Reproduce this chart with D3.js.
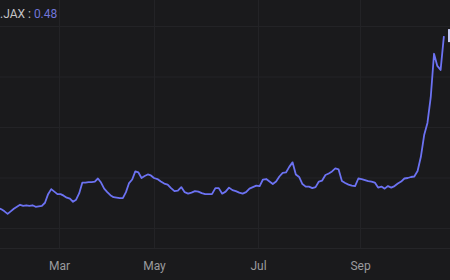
<!DOCTYPE html>
<html>
<head>
<meta charset="utf-8">
<script src="https://cdn.jsdelivr.net/npm/d3@7"></script>
<style>
  html, body { margin: 0; padding: 0; background: #1a1a1c; }
  svg { display: block; }
</style>
</head>
<body>
<div id="chart"></div>
<script>
// series: one value every second day, starting 22 Jan 2024
var startDay = new Date(2024, 0, 22);
var stepDays = 2;
var values = [
  0.140, 0.137, 0.133, 0.128, 0.133, 0.138, 0.142, 0.146, 0.144, 0.145,
  0.144, 0.145, 0.142, 0.143, 0.144, 0.150, 0.167, 0.177, 0.172, 0.167,
  0.167, 0.164, 0.160, 0.158, 0.152, 0.156, 0.169, 0.190, 0.190, 0.191,
  0.191, 0.192, 0.198, 0.190, 0.178, 0.171, 0.165, 0.161, 0.160, 0.159,
  0.159, 0.171, 0.189, 0.196, 0.212, 0.210, 0.199, 0.203, 0.206, 0.204,
  0.199, 0.197, 0.192, 0.188, 0.186, 0.179, 0.173, 0.174, 0.181, 0.171,
  0.168, 0.170, 0.173, 0.172, 0.169, 0.167, 0.167, 0.167, 0.179, 0.179,
  0.168, 0.172, 0.180, 0.175, 0.173, 0.170, 0.168, 0.171, 0.178, 0.181,
  0.184, 0.183, 0.196, 0.197, 0.192, 0.187, 0.192, 0.202, 0.209, 0.210,
  0.221, 0.230, 0.206, 0.201, 0.187, 0.182, 0.182, 0.179, 0.181, 0.192,
  0.194, 0.205, 0.208, 0.212, 0.218, 0.216, 0.193, 0.189, 0.186, 0.184,
  0.183, 0.198, 0.197, 0.195, 0.193, 0.192, 0.190, 0.180, 0.182, 0.178,
  0.183, 0.180, 0.183, 0.188, 0.192, 0.198, 0.199, 0.201, 0.202, 0.213,
  0.241, 0.284, 0.308, 0.359, 0.445, 0.421, 0.413, 0.480
];
var monthTicks = [new Date(2024, 2, 1), new Date(2024, 4, 1), new Date(2024, 6, 1), new Date(2024, 8, 1)];
var valueTicks = [0.1, 0.2, 0.3, 0.4, 0.5];
var seriesName = ".JAX";

var width = 450, height = 280;

var data = values.map(function(v, i) {
  return { date: d3.timeDay.offset(startDay, i * stepDays), value: v };
});

var svg = d3.select("#chart").append("svg")
  .attr("width", width)
  .attr("height", height)
  .style("background", "#1a1a1c");

// x is piecewise so month gaps follow the original layout
var x = d3.scaleTime()
  .domain(monthTicks)
  .range([59, 154, 258, 360]);

var y = d3.scaleLinear()
  .domain([0.1, 0.5])
  .range([228, 26]);

// grid
svg.append("g").selectAll("line.h")
  .data(valueTicks)
  .enter().append("line")
    .attr("x1", 0).attr("x2", width)
    .attr("y1", function(d) { return y(d) + 0.5; })
    .attr("y2", function(d) { return y(d) + 0.5; })
    .attr("stroke", "#232326");

svg.append("g").selectAll("line.v")
  .data(monthTicks)
  .enter().append("line")
    .attr("x1", function(d) { return Math.round(x(d)) + 0.5; })
    .attr("x2", function(d) { return Math.round(x(d)) + 0.5; })
    .attr("y1", 0).attr("y2", 249)
    .attr("stroke", "#232326");

svg.append("line")
  .attr("x1", 0).attr("x2", width)
  .attr("y1", 248.5).attr("y2", 248.5)
  .attr("stroke", "#252528");

// x axis labels
var xAxis = svg.append("g")
  .attr("transform", "translate(0,258)")
  .call(d3.axisBottom(x).tickValues(monthTicks).tickSize(0).tickFormat(d3.timeFormat("%b")));
xAxis.select(".domain").remove();
xAxis.selectAll("text")
  .attr("fill", "#9b9b9e")
  .style("font-family", "Roboto, sans-serif")
  .style("font-size", "12px");

// line
var line = d3.line()
  .x(function(d) { return x(d.date); })
  .y(function(d) { return y(d.value); });

svg.append("path")
  .datum(data)
  .attr("fill", "none")
  .attr("stroke", "#6c72f2")
  .attr("stroke-width", 1.8)
  .attr("stroke-linejoin", "round")
  .attr("d", line);

// last value marker on the (cropped) price scale
var last = data[data.length - 1];
svg.append("rect")
  .attr("x", 448)
  .attr("y", y(last.value) - 7)
  .attr("width", 12)
  .attr("height", 13)
  .attr("fill", "#c9cbf3");

// legend
var legend = svg.append("text")
  .attr("x", 0)
  .attr("y", 18)
  .style("font-family", "Roboto, sans-serif")
  .style("font-size", "12px");
legend.append("tspan").attr("fill", "#c4c4c6").text(seriesName + " : ");
legend.append("tspan").attr("fill", "#7075d8").text(last.value.toFixed(2));
</script>
</body>
</html>
